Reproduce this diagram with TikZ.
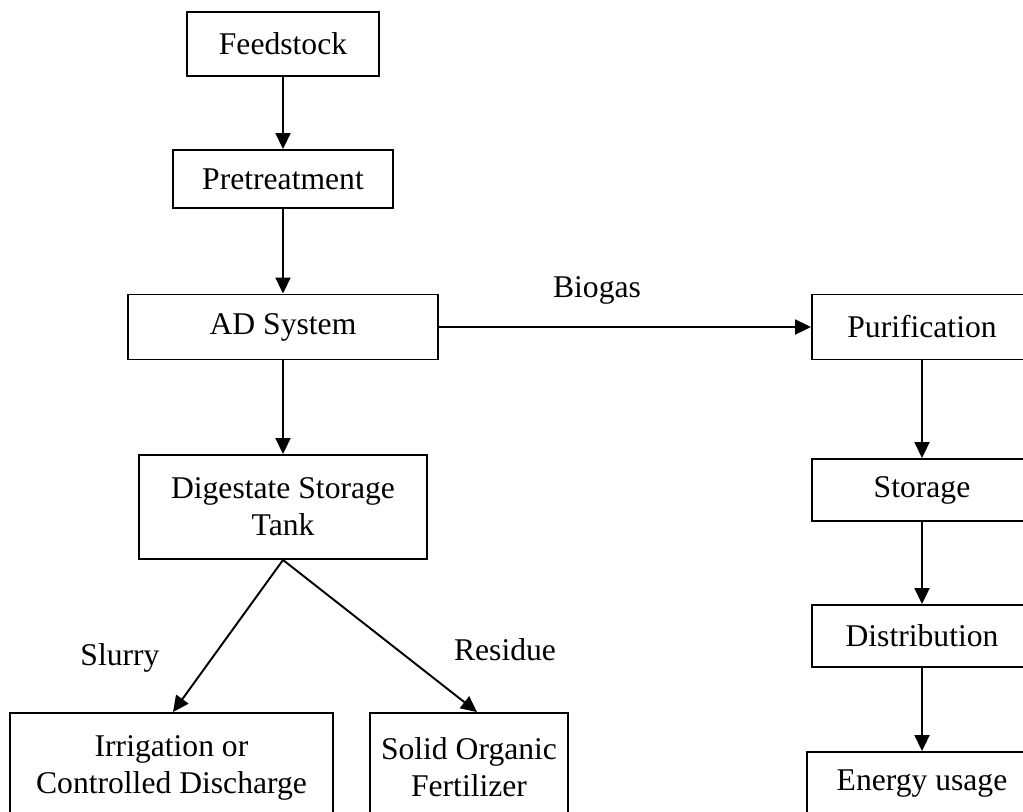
\documentclass[tikz,border=0pt]{standalone}
\usepackage{fontspec}
\setmainfont{Liberation Serif}
\usetikzlibrary{arrows.meta, positioning, calc}

\begin{document}
\begin{tikzpicture}[
    x=0.02cm, y=-0.02cm,
    stage/.style={draw, rectangle, line width=1.1pt, align=center, inner sep=0pt,
                  minimum width=#1, font=\fontsize{18}{21}\selectfont},
    stage/.default=220,
    flow/.style={-{Triangle[length=0.32cm, width=0.3cm]}, line width=1.1pt},
    flowlabel/.style={font=\fontsize{18}{21}\selectfont, inner sep=0pt}
]
\useasboundingbox (0,0) rectangle (1023,811);
\clip (0,0) rectangle (1023,811);

% --- Left column ---
\node[stage, minimum width=3.84cm, minimum height=1.28cm] (feed) at (283, 44) {Feedstock};
\node[stage, minimum width=4.4cm,  minimum height=1.16cm] (pre)  at (283, 179) {Pretreatment};
\node[stage, minimum width=6.2cm,  minimum height=1.3cm]  (ad)   at (283, 327) {AD System};
\node[stage, minimum width=5.76cm, minimum height=2.08cm] (dig)  at (283, 507) {Digestate Storage\\Tank};
\node[stage, minimum width=6.46cm, minimum height=2.18cm] (irr)  at (171.5, 767.5) {Irrigation or\\Controlled Discharge};
\node[stage, minimum width=3.96cm, minimum height=2.18cm] (solid) at (469, 767.5) {Solid Organic\\Fertilizer};

% --- Right column ---
\node[stage, minimum width=4.4cm, minimum height=1.3cm]  (pur)    at (922, 327) {Purification};
\node[stage, minimum width=4.4cm, minimum height=1.24cm] (stor)   at (922, 490) {Storage};
\node[stage, minimum width=4.4cm, minimum height=1.24cm] (dist)   at (922, 636) {Distribution};
\node[stage, minimum width=4.6cm, minimum height=1.26cm] (energy) at (922, 783.5) {Energy usage};

% --- Labels ---
\node[flowlabel] (biogas)  at (597, 290) {Biogas};
\node[flowlabel] (slurry)  at (120, 658) {Slurry};
\node[flowlabel] (residue) at (505, 650) {Residue};

% --- Arrows ---
\draw[flow] (feed) -- (pre);
\draw[flow] (pre) -- (ad);
\draw[flow] (ad) -- (dig);
\draw[flow] (ad.east) -- (pur.west);
\draw[flow] (pur) -- (stor);
\draw[flow] (stor) -- (dist);
\draw[flow] (dist) -- (energy);
\draw[flow] (dig.south) -- ($(irr.north)+(1.5,0)$);
\draw[flow] (dig.south) -- ($(solid.north)+(8,0)$);

\end{tikzpicture}
\end{document}
